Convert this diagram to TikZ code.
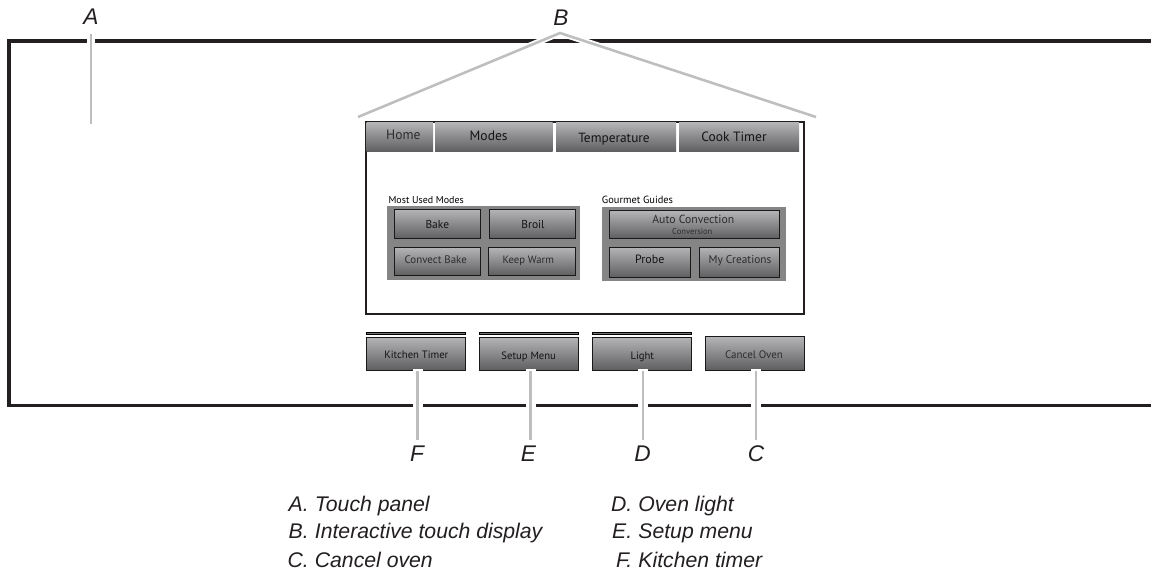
\documentclass[tikz,border=0pt]{standalone}
\usepackage{fontspec}
\setmainfont{Liberation Sans}
\newfontfamily\uifont{PT Sans}
\usetikzlibrary{calc}
\definecolor{frameblk}{HTML}{231F20}
\definecolor{leadgr}{HTML}{BCBEC0}
\definecolor{btntop}{HTML}{B4B4B6}
\definecolor{btnbot}{HTML}{5E5E60}
\definecolor{panelgr}{HTML}{858585}
\definecolor{txtdk}{HTML}{141416}
\definecolor{txtgr}{HTML}{2C2C30}
\newcommand{\fs}[1]{\fontsize{#1}{#1}\selectfont}
\tikzset{
 x=0.75pt,y=-0.75pt,
 frameline/.style={draw=frameblk,line width=2.6pt},
 leader/.style={draw=leadgr,line width=1.9pt},
 callout/.style={inner sep=0pt,font=\fs{17}\itshape,text=frameblk},
 legendtxt/.style={inner sep=0pt,anchor=west,font=\fs{15.9}\itshape,text=frameblk},
 tabbox/.style={top color=btntop,bottom color=btnbot,draw=none,inner sep=0pt},
 btn/.style={top color=btntop,bottom color=btnbot,draw=black!90,line width=0.75pt,inner sep=0pt},
 capbar/.style={fill=black!55,draw=black,line width=0.4pt,inner sep=0pt},
 groupbox/.style={fill=panelgr,draw=none,inner sep=0pt},
 lab/.style={inner sep=0pt,text height=.7em,text depth=0pt},
 smalltxt/.style={lab,anchor=west,text=black},
}
% style, name, left, top, right, bottom
\newcommand{\bx}[6]{\path[#1] (#3,#4) rectangle (#5,#6); \node[inner sep=0pt] (#2) at ({(#3+#5)/2},{(#4+#6)/2}) {};}
% name, x, y, size, colour, text
\newcommand{\lb}[6]{\node[lab,font=\uifont\fs{#4},text=#5] (#1) at (#2,#3) {#6};}
% name, x, y, letter, text  (letter right-aligned in a fixed box)
\newcommand{\lgd}[5]{\node[legendtxt] (#1) at (#2,#3) {\makebox[21pt][r]{#4}\hspace{4.6pt}#5};}
\begin{document}
\begin{tikzpicture}
\useasboundingbox (0,0) rectangle (1151,571);
% outer frame
\coordinate (fr) at (1151,41); \coordinate (fa) at (9,41); \coordinate (fb) at (9,405.3); \coordinate (fc) at (1151,405.3);
\draw[frameline] (fr) -- (fa) -- (fb) -- (fc);
% display
\node[draw=frameblk,line width=1.5pt,fill=white,minimum width=437.5*0.75pt,minimum height=191.5*0.75pt,anchor=north west,inner sep=0pt] (disp) at (365,121) {};
% tabs
\bx{tabbox}{thome}{366.5}{122.5}{433}{151.7}
\bx{tabbox}{tmodes}{435}{122.5}{552.7}{151.7}
\bx{tabbox}{ttemp}{556}{122.5}{676}{151.7}
\bx{tabbox}{tcook}{679}{122.5}{799}{151.7}
\lb{lhome}{403.3}{135}{10.2}{txtgr}{Home}
\lb{lmodes}{488.7}{136}{10.2}{txtdk}{Modes}
\lb{ltemp}{614}{137.5}{10}{txtdk}{Temperature}
\lb{lcook}{734}{136.5}{10.1}{txtdk}{Cook Timer}
% groups
\node[smalltxt,font=\uifont\fs{7.5}] (lmu) at (388.3,199.3) {Most Used Modes};
\node[smalltxt,font=\uifont\fs{7.8}] (lgg) at (601.7,199.3) {Gourmet Guides};
\bx{groupbox}{g1}{386.7}{206}{580}{280}
\bx{groupbox}{g2}{601.7}{206.7}{786}{281}
\bx{btn}{bake}{394}{209.5}{480}{238.7}
\bx{btn}{broil}{489}{209.5}{575}{238.7}
\bx{btn}{conv}{394}{247.5}{480}{275.7}
\bx{btn}{keep}{488.5}{247.5}{575}{275.7}
\bx{btn}{auto}{609}{210.7}{779}{238.7}
\bx{btn}{probe}{609}{247}{690}{277.5}
\bx{btn}{mycr}{699}{247}{779}{277.5}
\lb{lbake}{437.3}{224.3}{8.6}{txtdk}{Bake}
\lb{lbroil}{533}{224}{8.6}{txtdk}{Broil}
\lb{lconv}{435.7}{259.3}{8.2}{txtgr}{Convect Bake}
\lb{lkeep}{528.3}{259}{8}{txtgr}{Keep Warm}
\lb{lauto}{693.3}{219.3}{8.8}{txtgr}{Auto Convection}
\lb{lcvn}{692.3}{230.3}{6.4}{txtgr}{Conversion}
\lb{lprobe}{649.7}{259}{9}{txtdk}{Probe}
\lb{lmycr}{740}{259}{8.5}{txtgr}{My Creations}
% lower keys
\bx{capbar}{cap1}{366.7}{332}{465.7}{334.7}
\bx{capbar}{cap2}{479.3}{332}{578.3}{334.7}
\bx{capbar}{cap3}{592.7}{332}{691.7}{334.7}
\bx{btn}{kit}{366.7}{337.3}{465.7}{370.3}
\bx{btn}{set}{479.3}{337.3}{578.3}{370.3}
\bx{btn}{lig}{592.7}{337.3}{691.7}{370.3}
\bx{btn}{can}{705.7}{336.7}{804.3}{370}
\lb{lkit}{416.3}{354}{8}{txtdk}{Kitchen Timer}
\lb{lset}{528.7}{354.7}{8}{txtdk}{Setup Menu}
\lb{llig}{642.3}{355}{8}{txtdk}{Light}
\lb{lcan}{754}{354}{8.2}{txtgr}{Cancel Oven}
% callout letters
\node[callout] (lA) at (91,17) {A};
\node[callout] (lB) at (561,18) {B};
\node[callout] (lC) at (756,454) {C};
\node[callout] (lD) at (642.5,454) {D};
\node[callout] (lE) at (528.5,454) {E};
\node[callout] (lF) at (417,454) {F};
% leaders
\coordinate (aT) at (91,33.5); \coordinate (aB) at (91,123.5);
\coordinate (bA) at (560,33); \coordinate (bL) at (358,117); \coordinate (bR) at (816,117);
\draw[draw=white,line width=6.2pt] (91,38) -- (91,44);
\draw[leader] (aT) -- (aB);
\draw[draw=white,line width=4.6pt,line join=miter] (bL) -- (bA) -- (bR);
\draw[leader,line join=miter] (bL) -- (bA) -- (bR);
\foreach \n/\X in {fF/417.7,fE/530.5,fD/643,fC/756}{
  \coordinate (\n a) at (\X,370.5);
  \coordinate (\n b) at (\X,440);
  \draw[draw=white,line width=7.5pt] (\X,400) -- (\X,411);
  \draw[draw=white,line width=7.5pt] (\X,369.4) -- (\X,371.5);
  \draw[leader] (\n a) -- (\n b);
}
% legend
\lgd{la}{280.5}{506.5}{A.}{Touch panel}
\lgd{lb}{280.5}{533}{B.}{Interactive touch display}
\lgd{lc}{280.5}{559.5}{C.}{Cancel oven}
\lgd{ld}{604}{506.5}{D.}{Oven light}
\lgd{le}{604}{533}{E.}{Setup menu}
\lgd{lf}{604}{559.5}{F.}{Kitchen timer}
\end{tikzpicture}
\end{document}
